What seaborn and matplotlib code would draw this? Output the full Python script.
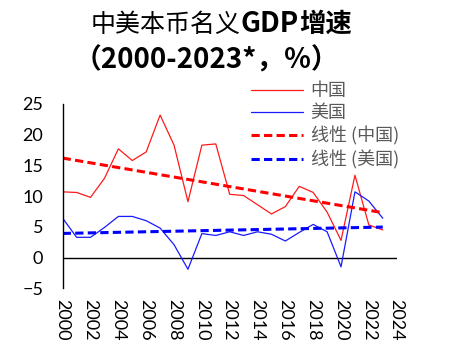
import matplotlib
matplotlib.use("Agg")
import matplotlib.pyplot as plt
import seaborn as sns
import numpy as np
import pandas as pd

years = list(range(2000, 2024))
china = [10.7, 10.6, 9.8, 12.9, 17.7, 15.8, 17.2, 23.2, 18.3, 9.1, 18.3, 18.5,
         10.3, 10.1, 8.6, 7.1, 8.3, 11.6, 10.6, 7.4, 2.8, 13.4, 5.3, 4.5]
us = [6.4, 3.3, 3.3, 4.9, 6.7, 6.7, 6.0, 4.8, 2.1, -1.9, 3.9, 3.6,
      4.2, 3.6, 4.2, 3.8, 2.7, 4.1, 5.4, 4.2, -1.5, 10.7, 9.2, 6.4]
series_labels = ["中国", "美国", "线性 (中国)", "线性 (美国)"]
title_line1 = [("中美本币名义", "normal", 18), ("GDP", "bold", 20), ("增速", "bold", 19)]
title_line2 = "（2000-2023*，%）"
xticks = list(range(2000, 2025, 2))
yticks = [-5, 0, 5, 10, 15, 20, 25]

sns.set_style("white")
plt.rcParams["font.family"] = ["Noto Sans CJK SC", "DejaVu Sans"]

df = pd.DataFrame({"year": years, "china": china, "us": us})

W, H = 449, 347
fig = plt.figure(figsize=(W / 100, H / 100), dpi=100)
ax = fig.add_axes([62.7 / W, 1 - 288.3 / H, (396.7 - 62.7) / W, (288.3 - 104) / H])

sns.lineplot(data=df, x="year", y="china", color="#FF1A1A", lw=0.9, ax=ax,
             label=series_labels[0])
sns.lineplot(data=df, x="year", y="us", color="#1A1AFF", lw=0.9, ax=ax,
             label=series_labels[1])
sns.regplot(data=df, x="year", y="china", scatter=False, ci=None, ax=ax,
            label=series_labels[2],
            line_kws=dict(color="#FF0000", lw=2.2, ls=(0, (2.7, 1.4))))
sns.regplot(data=df, x="year", y="us", scatter=False, ci=None, ax=ax,
            label=series_labels[3],
            line_kws=dict(color="#0000FF", lw=2.2, ls=(0, (2.7, 1.4))))

ax.axhline(0, color="black", lw=1.0, zorder=1)
ax.set_xlim(2000, 2024)
ax.set_ylim(-5, 25)
ax.set_xticks(xticks)
ax.set_yticks(yticks)
ax.set_xlabel("")
ax.set_ylabel("")
for s in ["top", "right", "bottom"]:
    ax.spines[s].set_visible(False)
ax.spines["left"].set_color("black")
ax.spines["left"].set_linewidth(1.0)
ax.tick_params(axis="both", length=0, colors="black")
ax.tick_params(axis="x", pad=8, labelrotation=-90, labelsize=13)
ax.tick_params(axis="y", pad=14, labelsize=13)
for lab in ax.get_xticklabels() + ax.get_yticklabels():
    lab.set_family(["Lato", "DejaVu Sans"])
for lab in ax.get_xticklabels():
    lab.set_va("top")
    lab.set_ha("center")

h, l = ax.get_legend_handles_labels()
leg = ax.legend(h, l, loc="upper left", bbox_to_anchor=(251 / W, 1 - 82 / H),
                bbox_transform=fig.transFigure, frameon=False, handlelength=2.9,
                prop=dict(family=["Noto Sans CJK SC", "DejaVu Sans"], size=13,
                          weight="light"),
                labelcolor="#595959", labelspacing=0.24,
                handletextpad=0.4, borderaxespad=0, borderpad=0)

renderer = fig.canvas.get_renderer()


def draw_seq(parts, ybase, cx):
    texts = []
    widths = []
    for s, w, size in parts:
        t = fig.text(0, 1 - ybase / H, s, fontsize=size, weight=w, va="baseline",
                     ha="left", color="black")
        widths.append(t.get_window_extent(renderer).width)
        texts.append(t)
    x = cx - sum(widths) / 2
    for t, w in zip(texts, widths):
        t.set_x(x / W)
        x += w


draw_seq(title_line1, 32, 221)
fig.text(206 / W, 1 - 60 / H, title_line2, fontsize=20, weight="bold",
         ha="center", va="center", color="black")

fig.savefig("out.png", dpi=100)
